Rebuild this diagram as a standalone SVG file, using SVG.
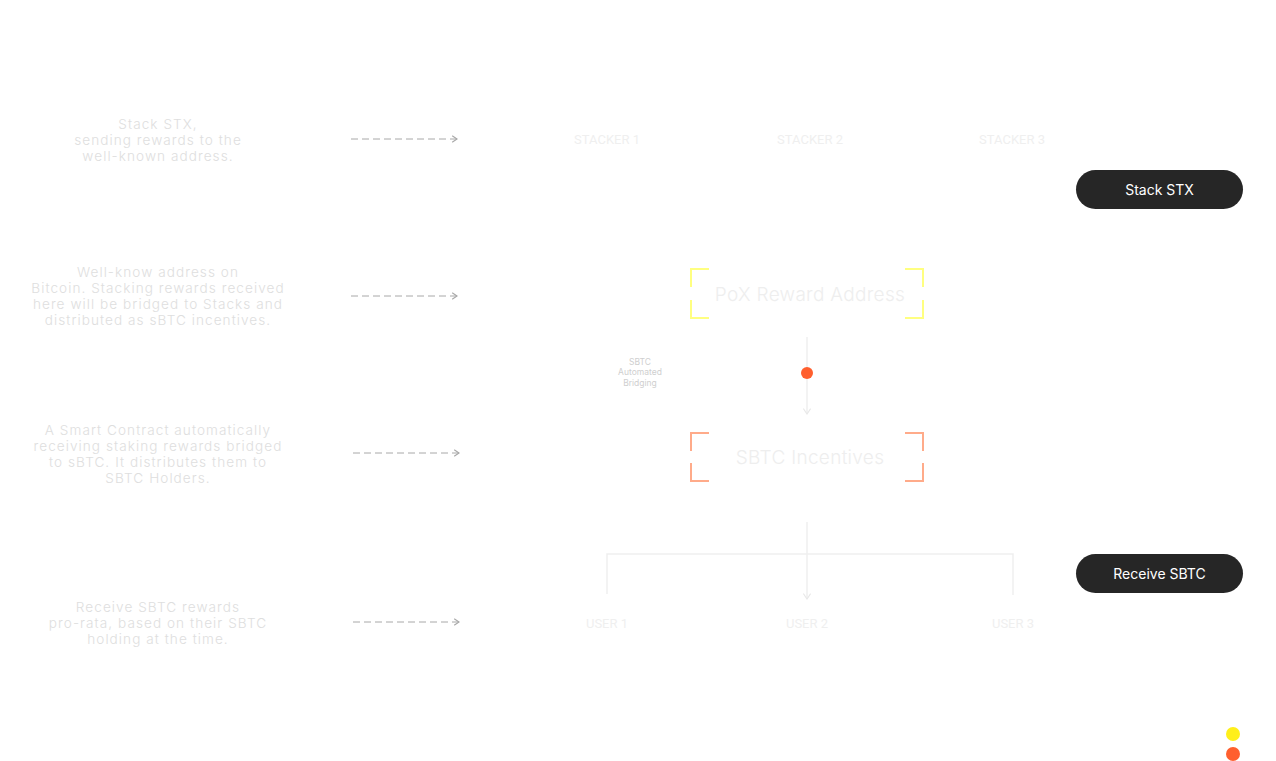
<svg xmlns="http://www.w3.org/2000/svg" width="1276" height="761" viewBox="0 0 1276 761">
<defs>
<style>
.desc{font-family:Inter,"Noto Sans",sans-serif;font-size:13.6px;font-weight:300;letter-spacing:1.05px;fill:#dedede;text-anchor:middle}
.lbl{font-family:Roboto,"Liberation Sans",sans-serif;font-size:13px;fill:#efefef;text-anchor:middle}
.big{font-family:Inter,"Noto Sans",sans-serif;font-size:19px;font-weight:300;letter-spacing:0.3px;fill:#eeeeee;text-anchor:middle}
.small{font-family:Inter,"Noto Sans",sans-serif;font-size:8.5px;fill:#cfcfcf;text-anchor:middle}
.btn{fill:#262626}
.btnt{font-family:Inter,"Noto Sans",sans-serif;font-size:14px;fill:#ffffff;text-anchor:middle}
.dash{stroke:#a8a8a8;stroke-width:1;stroke-dasharray:7,4;fill:none}
.flow{stroke:#efefef;stroke-width:1.5;fill:none}
.yb{stroke:#ffff80;stroke-width:2;fill:none}
.ob{stroke:#ffab8a;stroke-width:2;fill:none}
</style>
<marker id="ah" viewBox="0 0 10 10" refX="9" refY="5" markerWidth="8" markerHeight="8" markerUnits="userSpaceOnUse" orient="auto"><path d="M3,1 L9,5 L3,9" fill="none" stroke="#a8a8a8" stroke-width="1.4"/></marker>
<marker id="ah2" viewBox="0 0 10 10" refX="9" refY="5" markerWidth="9" markerHeight="9" markerUnits="userSpaceOnUse" orient="auto"><path d="M3,1 L9,5 L3,9" fill="none" stroke="#e8e8e8" stroke-width="1.2"/></marker>
</defs>
<rect width="1276" height="761" fill="#ffffff"/>

<g id="desc1"><text class="desc" x="158" y="129">Stack STX,</text><text class="desc" x="158" y="145">sending rewards to the</text><text class="desc" x="158" y="161">well-known address.</text></g>
<g id="desc2"><text class="desc" x="158" y="277">Well-know address on</text><text class="desc" x="158" y="293">Bitcoin. Stacking rewards received</text><text class="desc" x="158" y="309">here will be bridged to Stacks and</text><text class="desc" x="158" y="325">distributed as sBTC incentives.</text></g>
<g id="desc3"><text class="desc" x="158" y="435">A Smart Contract automatically</text><text class="desc" x="158" y="451">receiving staking rewards bridged</text><text class="desc" x="158" y="467">to sBTC. It distributes them to</text><text class="desc" x="158" y="483">SBTC Holders.</text></g>
<g id="desc4"><text class="desc" x="158" y="612">Receive SBTC rewards</text><text class="desc" x="158" y="628">pro-rata, based on their SBTC</text><text class="desc" x="158" y="644">holding at the time.</text></g>

<g id="connectors">
<line class="dash" x1="351" y1="139" x2="457" y2="139" marker-end="url(#ah)"/>
<line class="dash" x1="351" y1="296" x2="457" y2="296" marker-end="url(#ah)"/>
<line class="dash" x1="353" y1="453" x2="459" y2="453" marker-end="url(#ah)"/>
<line class="dash" x1="353" y1="622" x2="459" y2="622" marker-end="url(#ah)"/>
<line class="flow" x1="807" y1="337" x2="807" y2="414" marker-end="url(#ah2)"/>
<line class="flow" x1="807" y1="522" x2="807" y2="599" marker-end="url(#ah2)"/>
<polyline class="flow" points="607,594 607,554 1013,554 1013,595"/>
</g>

<g id="stacker1"><text class="lbl" x="607" y="144">STACKER 1</text></g>
<g id="stacker2"><text class="lbl" x="810" y="144">STACKER 2</text></g>
<g id="stacker3"><text class="lbl" x="1012" y="144">STACKER 3</text></g>

<g id="pox">
<path class="yb" d="M709,269 H691 V287 M691,300 V318 H709 M905,269 H923 V287 M923,300 V318 H905"/>
<text class="big" x="810" y="301">PoX Reward Address</text>
</g>

<g id="bridging">
<text class="small" x="640" y="365">SBTC</text><text class="small" x="640" y="375">Automated</text><text class="small" x="640" y="386">Bridging</text>
<circle cx="807" cy="373" r="6" fill="#ff5f2e"/>
</g>

<g id="sbtc">
<path class="ob" d="M709,433 H691 V451 M691,463 V481 H709 M905,433 H923 V451 M923,463 V481 H905"/>
<text class="big" x="810" y="464">SBTC Incentives</text>
</g>

<g id="user1"><text class="lbl" x="607" y="628">USER 1</text></g>
<g id="user2"><text class="lbl" x="807" y="628">USER 2</text></g>
<g id="user3"><text class="lbl" x="1013" y="628">USER 3</text></g>

<g id="btn1"><rect class="btn" x="1076" y="170" width="167" height="39" rx="19.5"/><text class="btnt" x="1159.5" y="194.5">Stack STX</text></g>
<g id="btn2"><rect class="btn" x="1076" y="554" width="167" height="39" rx="19.5"/><text class="btnt" x="1159.5" y="578.5">Receive SBTC</text></g>

<g id="legend">
<circle cx="1233" cy="734" r="7" fill="#ffef1a"/>
<circle cx="1233" cy="754" r="7" fill="#ff5f2e"/>
</g>
</svg>
